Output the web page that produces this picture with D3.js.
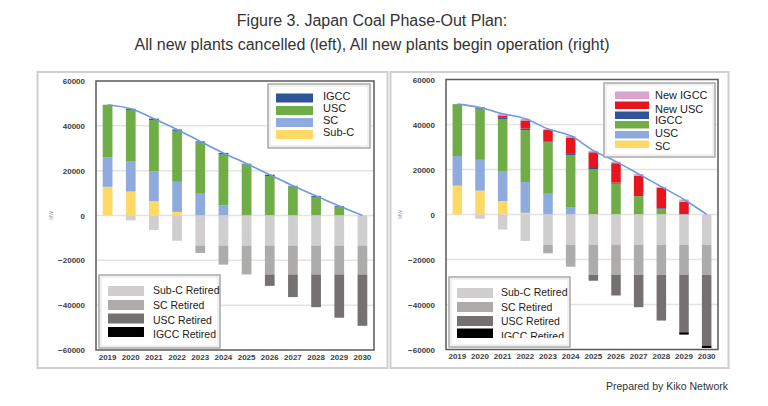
<!DOCTYPE html>
<html>
<head>
<meta charset="utf-8">
<script src="https://cdn.jsdelivr.net/npm/d3@7/dist/d3.min.js"></script>
<style>
  html, body { margin: 0; padding: 0; background: #fff; }
  svg { display: block; font-family: "Liberation Sans", Arial, Helvetica, sans-serif; }
</style>
</head>
<body>
<svg id="chart" width="768" height="406"></svg>
<script>
// ---------- DATA (MW) ----------
const years = ["2019","2020","2021","2022","2023","2024","2025","2026","2027","2028","2029","2030"];
const yTicks = [60000, 40000, 20000, 0, -20000, -40000, -60000];

// Left: all new plants cancelled
const leftSubC = [12800, 10700, 6400, 1600, 0, 0, 0, 0, 0, 0, 0, 0];
const leftSC   = [13200, 13300, 13400, 13400, 9700, 4500, 0, 0, 0, 0, 0, 0];
const leftUSC  = [23400, 23100, 22800, 22800, 22900, 22800, 22800, 17600, 12950, 8300, 3900, 0];
const leftIGCC = [0, 500, 600, 600, 450, 600, 300, 600, 300, 450, 300, 0];
const leftRetSubC = [0, 2200, 6500, 11300, 13400, 13400, 13400, 13400, 13400, 13400, 13400, 13400];
const leftRetSC   = [0, 0, 0, 0, 3300, 8500, 12900, 12900, 12900, 12900, 12900, 12900];
const leftRetUSC  = [0, 0, 0, 0, 0, 0, 0, 5100, 10100, 14600, 19300, 22900];
const leftRetIGCC = [0, 0, 0, 0, 0, 0, 0, 0, 0, 0, 0, 0];

// Right: all new plants begin operation
const rightSubC = [12800, 10600, 5950, 750, 0, 0, 0, 0, 0, 0, 0, 0];
const rightSC   = [13200, 13700, 13400, 13700, 9200, 3300, 0, 0, 0, 0, 0, 0];
const rightUSC  = [23050, 22760, 23050, 23050, 22900, 23050, 20070, 13680, 8180, 2530, 0, 0];
const rightIGCC = [0, 500, 600, 740, 450, 600, 600, 500, 500, 300, 200, 0];
const rightNewUSC  = [0, 0, 1000, 3570, 5060, 7290, 6990, 8620, 8620, 9070, 5500, 0];
const rightNewIGCC = [0, 0, 780, 750, 440, 740, 740, 700, 690, 440, 990, 0];
const rightRetSubC = [0, 1900, 6700, 11750, 13400, 13400, 13400, 13400, 13400, 13400, 13400, 13400];
const rightRetSC   = [0, 0, 0, 0, 3850, 9800, 13370, 13400, 13400, 13400, 13400, 13400];
const rightRetUSC  = [0, 0, 0, 0, 0, 0, 2670, 9200, 14400, 20340, 25540, 31490];
const rightRetIGCC = [0, 0, 0, 0, 0, 0, 0, 0, 0, 0, 1040, 1040];

// ---------- STYLE ----------
const colors = {
  subc: "#FFD966", sc: "#8FAADC", usc: "#70AD47", igcc: "#2F5597",
  newUsc: "#E8141E", newIgcc: "#D9A3CF",
  retSubc: "#D0CECE", retSc: "#AEABAB", retUsc: "#767171", retIgcc: "#000000"
};

const svg = d3.select("#chart");

// Title
svg.append("text").attr("x", 372).attr("y", 26).attr("text-anchor", "middle")
  .attr("font-size", 16).attr("fill", "#333").text("Figure 3. Japan Coal Phase-Out Plan:");
svg.append("text").attr("x", 372).attr("y", 50).attr("text-anchor", "middle")
  .attr("font-size", 16).attr("fill", "#333").text("All new plants cancelled (left), All new plants begin operation (right)");
svg.append("text").attr("x", 728).attr("y", 390).attr("text-anchor", "end")
  .attr("font-size", 10.5).attr("fill", "#333").text("Prepared by Kiko Network");

function drawPanel(cfg) {
  const g = svg.append("g");
  // panel border
  g.append("rect").attr("x", cfg.panel[0]).attr("y", cfg.panel[1])
    .attr("width", cfg.panel[2]).attr("height", cfg.panel[3])
    .attr("fill", "#fff").attr("stroke", "#cfcfcf").attr("stroke-width", 2);

  const x = d3.scaleBand().domain(years).range([cfg.plot.x0, cfg.plot.x1]).paddingInner(0.58).paddingOuter(0.29);
  const y = d3.scaleLinear().domain([-60000, 60000]).range([cfg.plot.y1, cfg.plot.y0]);

  // gridlines
  g.append("g").selectAll("line").data(yTicks.filter(t => t !== 60000 && t !== -60000)).join("line")
    .attr("x1", cfg.plot.x0).attr("x2", cfg.plot.x1)
    .attr("y1", d => y(d)).attr("y2", d => y(d))
    .attr("stroke", "#e3e3e3").attr("stroke-width", 1.5);

  // data table
  const table = years.map((yr, i) => {
    const row = { year: yr };
    cfg.pos.forEach(s => row[s.key] = s.values[i]);
    cfg.neg.forEach(s => row[s.key] = -s.values[i]);
    return row;
  });
  const keys = cfg.pos.map(s => s.key).concat(cfg.neg.map(s => s.key));
  const series = d3.stack().keys(keys).offset(d3.stackOffsetDiverging)(table);

  g.append("g").selectAll("g").data(series).join("g")
    .attr("fill", d => colors[d.key])
    .selectAll("rect").data(d => d.map(v => ({ v, year: v.data.year }))).join("rect")
    .attr("x", d => x(d.year))
    .attr("width", x.bandwidth())
    .attr("y", d => y(Math.max(d.v[0], d.v[1])))
    .attr("height", d => Math.abs(y(d.v[0]) - y(d.v[1])));

  // total line
  const totals = table.map(r => ({ year: r.year, total: d3.sum(cfg.pos, s => r[s.key]) }));
  const line = d3.line().x(d => x(d.year) + x.bandwidth() / 2).y(d => y(d.total)).curve(d3.curveMonotoneX);
  g.append("path").datum(totals).attr("d", line).attr("fill", "none")
    .attr("stroke", "#6E9BDC").attr("stroke-width", 1.6);

  // plot frame
  g.append("rect").attr("x", cfg.plot.x0).attr("y", cfg.plot.y0)
    .attr("width", cfg.plot.x1 - cfg.plot.x0).attr("height", cfg.plot.y1 - cfg.plot.y0)
    .attr("fill", "none").attr("stroke", "#5a5a5a").attr("stroke-width", 1.5);

  // y axis
  const yAxis = g.append("g").attr("transform", `translate(${cfg.plot.x0 - 11},0)`)
    .call(d3.axisLeft(y).tickValues(yTicks).tickSize(0).tickPadding(0).tickFormat(d3.format("d")));
  yAxis.select(".domain").remove();
  yAxis.selectAll("text").attr("font-size", 8).attr("font-weight", "bold").attr("fill", "#404040")
    .attr("font-family", "'Liberation Sans', Arial, sans-serif");

  // x axis labels
  const xAxis = g.append("g").attr("transform", `translate(0,${cfg.plot.y1 + 4})`)
    .call(d3.axisBottom(x).tickSize(0).tickPadding(0));
  xAxis.select(".domain").remove();
  xAxis.selectAll("text").attr("font-size", 8).attr("font-weight", "bold").attr("fill", "#404040")
    .attr("font-family", "'Liberation Sans', Arial, sans-serif");

  // MW label
  g.append("text").attr("transform", `translate(${cfg.mwX},${y(0)}) rotate(-90)`)
    .attr("text-anchor", "middle").attr("font-size", 5).attr("fill", "#999").text("MW");

  // legends
  cfg.legends.forEach((lg, li) => {
    const lgG = g.append("g");
    lgG.append("rect").attr("x", lg.box[0]).attr("y", lg.box[1]).attr("width", lg.box[2]).attr("height", lg.box[3])
      .attr("fill", "#fff").attr("stroke", "#9a9a9a").attr("stroke-width", 1.3);
    lgG.append("rect").attr("x", lg.box[0] + 2).attr("y", lg.box[1] + 2).attr("width", lg.box[2] - 4).attr("height", lg.box[3] - 4)
      .attr("fill", "none").attr("stroke", "#e2e2e2").attr("stroke-width", 1);
    const clipId = cfg.id + "clip" + li;
    lgG.append("clipPath").attr("id", clipId).append("rect")
      .attr("x", lg.box[0]).attr("y", lg.box[1]).attr("width", lg.box[2]).attr("height", lg.clipH || lg.box[3]);
    const inner = lgG.append("g").attr("clip-path", `url(#${clipId})`);
    inner.selectAll("rect.sw").data(lg.swatches).join("rect").attr("class", "sw")
      .attr("x", lg.swX).attr("y", d => d.y).attr("width", lg.swW).attr("height", lg.swH)
      .attr("fill", d => colors[d.key]);
    inner.selectAll("text").data(lg.labels).join("text")
      .attr("x", lg.textX).attr("y", d => d.y).attr("dominant-baseline", "central")
      .attr("font-size", lg.fontSize).attr("fill", "#222").text(d => d.text);
  });
}

drawPanel({
  id: "L",
  panel: [37.5, 72, 350, 296],
  plot: { x0: 96, x1: 374, y0: 81, y1: 350 },
  mwX: 53,
  pos: [
    { key: "subc", values: leftSubC }, { key: "sc", values: leftSC },
    { key: "usc", values: leftUSC }, { key: "igcc", values: leftIGCC }
  ],
  neg: [
    { key: "retSubc", values: leftRetSubC }, { key: "retSc", values: leftRetSC },
    { key: "retUsc", values: leftRetUSC }, { key: "retIgcc", values: leftRetIGCC }
  ],
  legends: [
    { box: [268, 84, 102, 64], swX: 276, swW: 37, swH: 9, textX: 323, fontSize: 11,
      swatches: [{ key: "igcc", y: 93.5 }, { key: "usc", y: 106 }, { key: "sc", y: 118 }, { key: "subc", y: 130 }],
      labels: [{ text: "IGCC", y: 96 }, { text: "USC", y: 108 }, { text: "SC", y: 120 }, { text: "Sub-C", y: 132 }] },
    { box: [99, 275, 121, 73], swX: 108, swW: 36, swH: 10, textX: 153, fontSize: 10.5,
      swatches: [{ key: "retSubc", y: 286 }, { key: "retSc", y: 300 }, { key: "retUsc", y: 313.5 }, { key: "retIgcc", y: 327 }],
      labels: [{ text: "Sub-C Retired", y: 290 }, { text: "SC Retired", y: 305 }, { text: "USC Retired", y: 319.5 }, { text: "IGCC Retired", y: 334 }] }
  ]
});

drawPanel({
  id: "R",
  panel: [390.5, 72, 338, 296],
  plot: { x0: 446, x1: 718, y0: 79.5, y1: 349.5 },
  mwX: 402,
  pos: [
    { key: "subc", values: rightSubC }, { key: "sc", values: rightSC },
    { key: "usc", values: rightUSC }, { key: "igcc", values: rightIGCC },
    { key: "newUsc", values: rightNewUSC }, { key: "newIgcc", values: rightNewIGCC }
  ],
  neg: [
    { key: "retSubc", values: rightRetSubC }, { key: "retSc", values: rightRetSC },
    { key: "retUsc", values: rightRetUSC }, { key: "retIgcc", values: rightRetIGCC }
  ],
  legends: [
    { box: [604, 83, 111, 74], swX: 615, swW: 34, swH: 7.5, textX: 655, fontSize: 11,
      swatches: [{ key: "newIgcc", y: 91.5 }, { key: "newUsc", y: 101.5 }, { key: "igcc", y: 111.5 },
                 { key: "usc", y: 121 }, { key: "sc", y: 131 }, { key: "subc", y: 140.5 }],
      labels: [{ text: "New IGCC", y: 95 }, { text: "New USC", y: 108.5 }, { text: "IGCC", y: 120 },
               { text: "USC", y: 132.5 }, { text: "SC", y: 146 }] },
    { box: [449, 277, 121, 70], clipH: 61, swX: 457, swW: 36, swH: 10, textX: 501, fontSize: 10.5,
      swatches: [{ key: "retSubc", y: 288 }, { key: "retSc", y: 302 }, { key: "retUsc", y: 316 }, { key: "retIgcc", y: 328.5 }],
      labels: [{ text: "Sub-C Retired", y: 291.5 }, { text: "SC Retired", y: 306.5 }, { text: "USC Retired", y: 320.5 }, { text: "IGCC Retired", y: 335.5 }] }
  ]
});
</script>
</body>
</html>
